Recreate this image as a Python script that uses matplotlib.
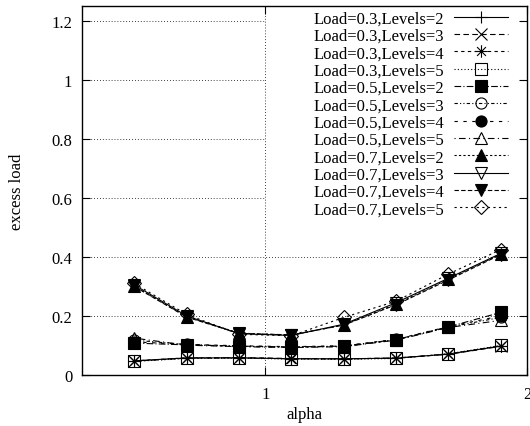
import numpy as np
import matplotlib
matplotlib.use('Agg')
import matplotlib.pyplot as plt
from matplotlib.path import Path

plt.rcParams['font.family'] = ['Liberation Serif', 'DejaVu Serif']
plt.rcParams['font.size'] = 12

# ---------------- data ---------------- #
alpha = [0.5, 0.7, 0.9, 1.1, 1.3, 1.5, 1.7, 1.9]

labels = ['Load=0.3,Levels=2', 'Load=0.3,Levels=3', 'Load=0.3,Levels=4', 'Load=0.3,Levels=5',
          'Load=0.5,Levels=2', 'Load=0.5,Levels=3', 'Load=0.5,Levels=4', 'Load=0.5,Levels=5',
          'Load=0.7,Levels=2', 'Load=0.7,Levels=3', 'Load=0.7,Levels=4', 'Load=0.7,Levels=5']

l3_lv2 = [0.048, 0.058, 0.058, 0.055, 0.055, 0.057, 0.071, 0.098]
l3_lv3 = [0.047, 0.057, 0.059, 0.056, 0.054, 0.058, 0.070, 0.097]
l3_lv4 = [0.048, 0.058, 0.058, 0.055, 0.055, 0.057, 0.071, 0.099]
l3_lv5 = [0.046, 0.056, 0.057, 0.054, 0.053, 0.056, 0.072, 0.100]

l5_lv2 = [0.108, 0.102, 0.098, 0.095, 0.098, 0.120, 0.163, 0.212]
l5_lv3 = [0.118, 0.103, 0.097, 0.094, 0.097, 0.119, 0.162, 0.195]
l5_lv4 = [0.112, 0.104, 0.099, 0.096, 0.099, 0.121, 0.164, 0.200]
l5_lv5 = [0.125, 0.101, 0.096, 0.093, 0.096, 0.118, 0.161, 0.185]

l7_lv2 = [0.300, 0.198, 0.142, 0.135, 0.170, 0.240, 0.325, 0.410]
l7_lv3 = [0.305, 0.200, 0.140, 0.134, 0.172, 0.245, 0.328, 0.412]
l7_lv4 = [0.300, 0.196, 0.141, 0.136, 0.169, 0.238, 0.322, 0.408]
l7_lv5 = [0.310, 0.205, 0.138, 0.133, 0.195, 0.250, 0.342, 0.425]

series = [l3_lv2, l3_lv3, l3_lv4, l3_lv5,
          l5_lv2, l5_lv3, l5_lv4, l5_lv5,
          l7_lv2, l7_lv3, l7_lv4, l7_lv5]

# gnuplot style asterisk (+ and x overlaid)
d = 0.7071
asterisk = Path([(-1, 0), (1, 0), (0, -1), (0, 1), (-d, -d), (d, d), (-d, d), (d, -d)],
                [Path.MOVETO, Path.LINETO] * 4)

# (linestyle, marker, filled)
styles = [
    ('-', '+', False),
    ((0, (5, 3)), 'x', False),
    ((0, (3, 3)), asterisk, False),
    ((0, (1, 2)), 's', False),
    ((0, (6, 2, 1, 2)), 's', True),
    ((0, (3, 2, 1, 2, 1, 2)), 'o', False),
    ((0, (3, 5)), 'o', True),
    ((0, (1, 3, 6, 3)), '^', False),
    ((0, (2, 2)), '^', True),
    ('-', 'v', False),
    ((0, (4, 2)), 'v', True),
    ((0, (2, 3)), 'D', False),
]

fig = plt.figure(figsize=(5.3, 4.27), dpi=100)
ax = fig.add_axes([82 / 530, 1 - 376 / 427, 445 / 530, 369 / 427])

# grid (gnuplot hides it behind the opaque key box)
for gy in [0.2, 0.4, 0.6, 0.8, 1.0, 1.2]:
    xend = 2.0 if gy < 0.5 else 1.0
    ax.plot([0.3, xend], [gy, gy], color='black', lw=0.6, ls=(0, (1, 2.5)), zorder=1)
ax.axvline(1.0, color='black', lw=0.6, ls=(0, (1, 2.5)), zorder=1)

for lab, ys, (ls, mk, filled) in zip(labels, series, styles):
    if mk is asterisk:
        ms = 9
    elif mk == 's':
        ms = 9
    elif mk == 'D':
        ms = 7
    else:
        ms = 8
    ax.plot(alpha, ys, color='black', lw=0.8, ls=ls, marker=mk, markersize=ms,
            markerfacecolor='black' if filled else 'none', markeredgecolor='black',
            markeredgewidth=0.8, label=lab, zorder=3)

ax.set_xlim(0.3, 2.0)
ax.set_ylim(0, 1.25)
ax.set_xticks([1, 2])
ax.set_xticklabels(['1', '2'])
ax.set_yticks([0, 0.2, 0.4, 0.6, 0.8, 1.0, 1.2])
ax.set_yticklabels(['0', '0.2', '0.4', '0.6', '0.8', '1', '1.2'])
ax.tick_params(axis='y', direction='in', right=True, length=6, width=0.8, pad=7)
ax.tick_params(axis='x', direction='in', top=True, length=6, width=0.8, pad=8)
for sp in ax.spines.values():
    sp.set_linewidth(1.0)

ax.set_xlabel('alpha', labelpad=3)
ax.set_ylabel('excess load', labelpad=19)

leg = ax.legend(loc='upper right', bbox_to_anchor=(0.975, 1.01), markerfirst=False,
                frameon=False, handlelength=3.2, labelspacing=0.08, handletextpad=0.6,
                borderpad=0.0, fontsize=12)

fig.savefig('out.png', dpi=100)
